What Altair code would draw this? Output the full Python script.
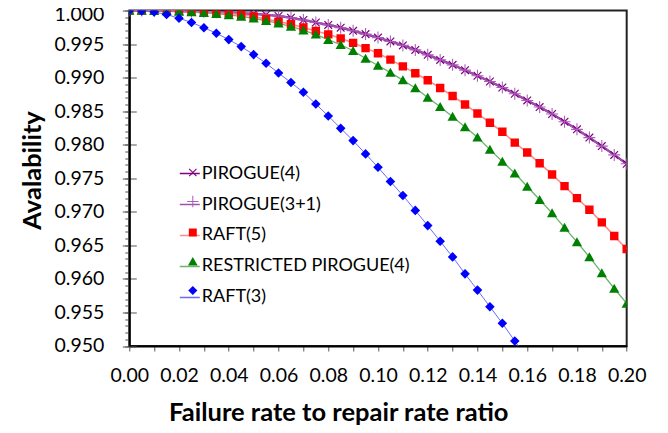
import altair as alt
import pandas as pd

# ---------------- data ----------------
X = [0.000, 0.005, 0.010, 0.015, 0.020, 0.025, 0.030, 0.035, 0.040, 0.045,
     0.050, 0.055, 0.060, 0.065, 0.070, 0.075, 0.080, 0.085, 0.090, 0.095,
     0.100, 0.105, 0.110, 0.115, 0.120, 0.125, 0.130, 0.135, 0.140, 0.145,
     0.150, 0.155, 0.160, 0.165, 0.170, 0.175, 0.180, 0.185, 0.190, 0.195,
     0.200]

SERIES = ["PIROGUE(4)", "PIROGUE(3+1)", "RAFT(5)", "RESTRICTED PIROGUE(4)", "RAFT(3)"]

PIROGUE_4 = [1.00000, 0.99999, 0.99997, 0.99994, 0.99990, 0.99985, 0.99980, 0.99974, 0.99967, 0.99958,
             0.99949, 0.99937, 0.99918, 0.99893, 0.99859, 0.99821, 0.99785, 0.99744, 0.99697, 0.99648,
             0.99596, 0.99539, 0.99480, 0.99413, 0.99339, 0.99264, 0.99190, 0.99111, 0.99027, 0.98942,
             0.98853, 0.98759, 0.98660, 0.98561, 0.98458, 0.98343, 0.98229, 0.98106, 0.97979, 0.97848,
             0.97715]

PIROGUE_3P1 = [1.00000, 0.99999, 0.99997, 0.99994, 0.99990, 0.99985, 0.99980, 0.99974, 0.99967, 0.99958,
               0.99949, 0.99937, 0.99918, 0.99893, 0.99859, 0.99821, 0.99785, 0.99744, 0.99697, 0.99648,
               0.99596, 0.99539, 0.99480, 0.99413, 0.99339, 0.99264, 0.99190, 0.99111, 0.99027, 0.98942,
               0.98853, 0.98759, 0.98660, 0.98561, 0.98458, 0.98343, 0.98229, 0.98106, 0.97979, 0.97848,
               0.97715]

RAFT_5 = [1.00000, 1.00000, 0.99999, 0.99998, 0.99995, 0.99990, 0.99982, 0.99971, 0.99957, 0.99936,
          0.99910, 0.99873, 0.99834, 0.99795, 0.99746, 0.99695, 0.99644, 0.99585, 0.99517, 0.99440,
          0.99364, 0.99268, 0.99168, 0.99064, 0.98960, 0.98846, 0.98726, 0.98600, 0.98466, 0.98327,
          0.98193, 0.98031, 0.97883, 0.97724, 0.97556, 0.97382, 0.97204, 0.97031, 0.96842, 0.96639,
          0.96446]

RESTRICTED_4 = [1.00000, 0.99999, 0.99997, 0.99993, 0.99986, 0.99977, 0.99966, 0.99952, 0.99934, 0.99911,
                0.99882, 0.99848, 0.99808, 0.99762, 0.99705, 0.99645, 0.99565, 0.99490, 0.99400, 0.99285,
                0.99180, 0.99075, 0.98963, 0.98844, 0.98704, 0.98566, 0.98418, 0.98264, 0.98110, 0.97927,
                0.97749, 0.97575, 0.97377, 0.97180, 0.96981, 0.96764, 0.96550, 0.96327, 0.96089, 0.95857,
                0.95634]

RAFT_3 = [1.00000, 0.99995, 0.99978, 0.99940, 0.99885, 0.99822, 0.99744, 0.99661, 0.99566, 0.99462,
          0.99343, 0.99213, 0.99068, 0.98926, 0.98781, 0.98606, 0.98428, 0.98244, 0.98061, 0.97863,
          0.97664, 0.97452, 0.97244, 0.97021, 0.96794, 0.96561, 0.96328, 0.96075, 0.95833, 0.95585,
          0.95338, 0.95075, 0.94810]

X_TICKS = [0.00, 0.01, 0.02, 0.03, 0.04, 0.05, 0.06, 0.07, 0.08, 0.09, 0.10,
           0.11, 0.12, 0.13, 0.14, 0.15, 0.16, 0.17, 0.18, 0.19, 0.20]
Y_MAJOR = [0.950, 0.955, 0.960, 0.965, 0.970, 0.975, 0.980, 0.985, 0.990, 0.995, 1.000]
Y_MINOR = [round(0.950 + 0.001 * k, 3) for k in range(51)]

# ---------------- styles ----------------
LINE_COLORS = ["#800080", "#A050B0", "#FF8C8C", "#6DB36D", "#6A6AFF"]
LINE_WIDTHS = [2.2, 1.0, 1.2, 1.0, 1.0]
MARKER_COLORS = ["#800080", "#A860B8", "#FF0000", "#008000", "#0000FF"]

XMARK = ("M-0.57,-0.71L0.71,0.57L0.57,0.71L-0.71,-0.57Z"
         "M-0.71,0.57L0.57,-0.71L0.71,-0.57L-0.57,0.71Z")
PLUSMARK = "M-1,-0.09H1V0.09H-1ZM-0.09,-1H0.09V1H-0.09Z"
SQUARE = "M-0.7,-0.7H0.7V0.7H-0.7Z"
TRIANGLE = "M0,-0.8L0.85,0.7H-0.85Z"
DIAMOND = "M0,-0.8L0.8,0L0,0.8L-0.8,0Z"
MARKER_PATHS = [XMARK, PLUSMARK, SQUARE, TRIANGLE, DIAMOND]

FONT = "Lato"

rows = []
for name, vals in zip(SERIES, [PIROGUE_4, PIROGUE_3P1, RAFT_5, RESTRICTED_4, RAFT_3]):
    for x, v in zip(X, vals):
        rows.append({"ratio": x, "avail": v, "series": name})
df = pd.DataFrame(rows)

x_scale = alt.Scale(domain=[0, 0.2], nice=False, zero=False)
y_scale = alt.Scale(domain=[0.95, 1.0], nice=False, zero=False)

x_axis = alt.Axis(
    values=X_TICKS,
    labelExpr="(round(datum.value*100) % 2 == 0) ? format(datum.value, '.2f') : ''",
    labelOverlap=False, labelFlush=False,
    tickSize=5, labelPadding=16, grid=False,
    domainColor="black", domainWidth=2,
    title="Failure rate to repair rate ratio",
    titleX=209, titleY=75, titleBaseline="alphabetic", titleAlign="center",
)

y_axis_major = alt.Axis(
    values=Y_MAJOR, format=".3f", orient="left", labelOverlap=False, labelFlush=False,
    labelOffset={"condition": {"test": "datum.value > 0.9995", "value": 4}, "value": 0},
    offset=-7, tickSize=14, domain=False, labelPadding=18.5, grid=False,
    title="Avalability",
    titleX=-96, titleY=159.5, titleBaseline="alphabetic", titleAlign="center",
)

y_axis_minor = alt.Axis(
    values=Y_MINOR, labels=False, orient="left", tickSize=4.5, grid=False,
    domain=True, domainColor="black", domainWidth=2, title=None,
)

line_legend = alt.Legend(
    orient="none", legendX=49.5, legendY=152, title=None,
    symbolSize=400, symbolType="stroke", symbolStrokeWidth=1.5,
    labelOffset=1, rowPadding=11, padding=0,
    labelFont=FONT, labelFontSize=18, labelFontWeight="normal", labelColor="black",
    labelLimit=400, zindex=0,
)
marker_legend = alt.Legend(
    orient="none", legendX=57, legendY=155.5, title=None,
    symbolSize=130, labelOffset=0, rowPadding=18, padding=0,
    labelExpr="''", labelFontSize=1, zindex=1,
)

lines = alt.Chart(df).mark_line(clip=True).encode(
    x=alt.X("ratio:Q", scale=x_scale, axis=x_axis),
    y=alt.Y("avail:Q", scale=y_scale, axis=y_axis_major),
    stroke=alt.Stroke("series:N", sort=SERIES, scale=alt.Scale(range=LINE_COLORS), legend=line_legend),
    strokeWidth=alt.StrokeWidth("series:N", sort=SERIES, scale=alt.Scale(range=LINE_WIDTHS), legend=None),
)

points = alt.Chart(df).mark_point(filled=True, opacity=1, size=144, clip=True).encode(
    x=alt.X("ratio:Q", scale=x_scale, axis=x_axis),
    y=alt.Y("avail:Q", scale=y_scale, axis=y_axis_minor),
    color=alt.Color("series:N", scale=alt.Scale(domain=SERIES, range=MARKER_COLORS), legend=marker_legend),
    shape=alt.Shape("series:N", scale=alt.Scale(domain=SERIES, range=MARKER_PATHS), legend=marker_legend),
)

chart = (
    alt.layer(lines, points)
    .resolve_axis(y="independent")
    .properties(
        width=497.4, height=335.5,
        padding={"left": 121.3, "top": 2.5, "right": 20, "bottom": 81},
        autosize=alt.AutoSizeParams(type="none"),
    )
    .configure_view(stroke="#222222", strokeWidth=2)
    .configure_axis(
        labelFont=FONT, labelFontSize=19.5, labelColor="black",
        titleFont=FONT, titleFontSize=25.5, titleFontWeight="bold", titleColor="black",
        tickColor="#555555", tickWidth=1,
    )
)

chart.save("out.html", embed_options={"renderer": "svg", "actions": False})
